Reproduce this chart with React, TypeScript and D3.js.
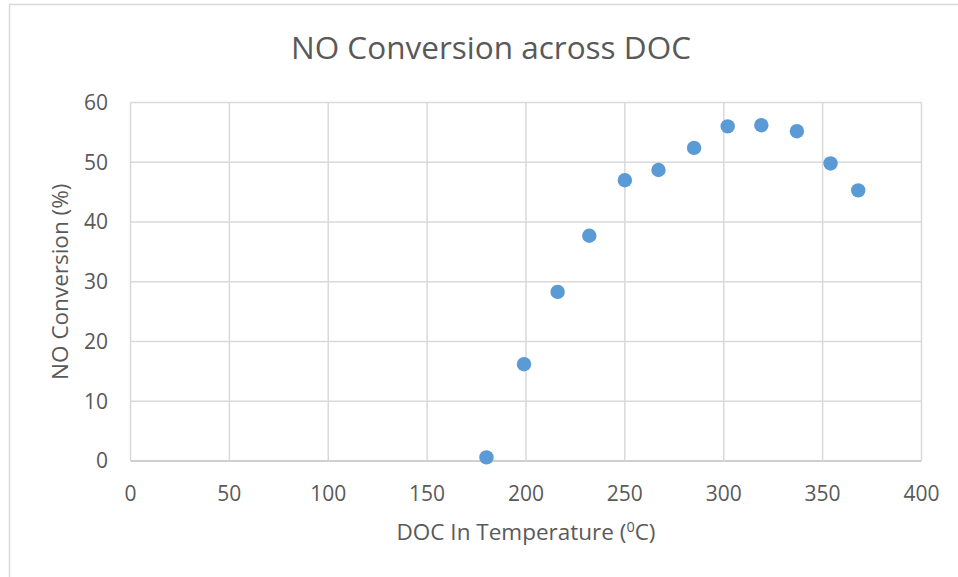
import React from "react";
import * as d3 from "d3";

const temperatures = [180, 199, 216, 232, 250, 267, 285, 302, 319, 337, 354, 368];
const conversions = [0.6, 16.2, 28.3, 37.7, 47.0, 48.7, 52.4, 56.0, 56.2, 55.2, 49.8, 45.3];
const xTicks = [0, 50, 100, 150, 200, 250, 300, 350, 400];
const yTicks = [0, 10, 20, 30, 40, 50, 60];
const titleText = "NO Conversion across DOC";
const yAxisTitle = "NO Conversion (%)";

const W = 958;
const H = 577;
const FONT = "'Open Sans', 'Noto Sans', sans-serif";
const TEXT = "#595959";
const GRID = "#d9d9d9";

export default function App() {
  const x = d3.scaleLinear().domain([0, 400]).range([130.5, 921.5]);
  const y = d3.scaleLinear().domain([0, 60]).range([461, 102.5]);
  const points = temperatures.map((t, i) => ({ t, c: conversions[i] }));

  return (
    <svg
      width={W}
      height={H}
      style={{ position: "absolute", left: 0, top: 0, background: "#fff" }}
      fontFamily={FONT}
    >
      <rect x={0} y={0} width={W} height={H} fill="#fff" />
      <rect x={9.5} y={4.5} width={W + 20} height={H + 20} fill="#fff" stroke={GRID} strokeWidth={1.5} />

      <text x={491} y={59} textAnchor="middle" fill={TEXT} fontSize={31.5}>
        {titleText}
      </text>

      {yTicks.map((v) => (
        <line key={"h" + v} x1={x(0)} x2={x(400)} y1={y(v)} y2={y(v)} stroke={v === 0 ? "#bfbfbf" : GRID} strokeWidth={1.5} />
      ))}
      {xTicks.map((v) => (
        <line key={"v" + v} x1={x(v)} x2={x(v)} y1={y(0)} y2={y(60)} stroke={GRID} strokeWidth={1.5} />
      ))}

      {yTicks.map((v) => (
        <text key={"yl" + v} x={108} y={y(v)} dy="0.35em" textAnchor="end" fill={TEXT} fontSize={21}>
          {v}
        </text>
      ))}
      {xTicks.map((v) => (
        <text key={"xl" + v} x={x(v)} y={500.5} textAnchor="middle" fill={TEXT} fontSize={21}>
          {v}
        </text>
      ))}

      <text x={526} y={540} textAnchor="middle" fill={TEXT} fontSize={22.5}>
        DOC In Temperature (<tspan fontSize={14.5} dy={-8}>0</tspan>
        <tspan dy={8}>C)</tspan>
      </text>
      <text
        transform={`translate(68, ${(y(0) + y(60)) / 2}) rotate(-90)`}
        textAnchor="middle"
        fill={TEXT}
        fontSize={22.5}
      >
        {yAxisTitle}
      </text>

      {points.map((p, i) => (
        <circle key={i} cx={x(p.t)} cy={y(p.c)} r={7.2} fill="#5b9bd5" />
      ))}
    </svg>
  );
}
